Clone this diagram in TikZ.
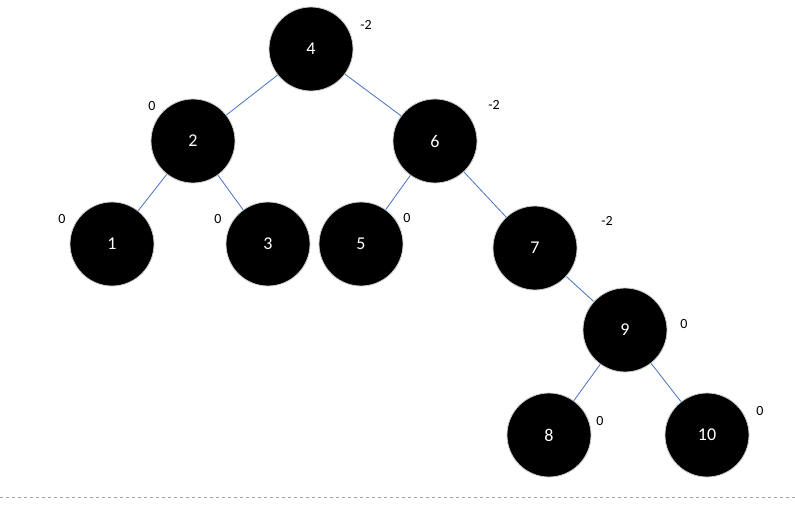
\documentclass[tikz,border=0pt]{standalone}
\usepackage{fontspec}
\setmainfont{Carlito}
\begin{document}
\begin{tikzpicture}[x=1pt,y=-1pt,
  nd/.style={circle,fill=black,draw=gray!40,line width=0.8pt,minimum size=84pt,inner sep=0pt,text=white,font=\fontsize{18}{18}\selectfont},
  lab/.style={font=\fontsize{14}{14}\selectfont,text=black},
  ed/.style={draw={rgb,255:red,68;green,114;blue,196},line width=0.8pt}]
\useasboundingbox (0,0) rectangle (795,504);
\node[nd] (n4) at (311,49) {4};
\node[nd] (n2) at (193,141) {2};
\node[nd] (n6) at (435,141) {6};
\node[nd] (n1) at (112,244) {1};
\node[nd] (n3) at (268,244) {3};
\node[nd] (n5) at (361,244) {5};
\node[nd] (n7) at (535,248) {7};
\node[nd] (n9) at (625,330) {9};
\node[nd] (n8) at (549,435) {8};
\node[nd] (n10) at (707,435) {10};
\draw[ed] (n4)--(n2); \draw[ed] (n4)--(n6);
\draw[ed] (n2)--(n1); \draw[ed] (n2)--(n3);
\draw[ed] (n6)--(n5); \draw[ed] (n6)--(n7);
\draw[ed] (n7)--(n9); \draw[ed] (n9)--(n8); \draw[ed] (n9)--(n10);
\node[lab] (l4) at (366,25) {-2};
\node[lab] (l2) at (152,106) {0};
\node[lab] (l6) at (494,105) {-2};
\node[lab] (l1) at (62,219) {0};
\node[lab] (l3) at (218,219) {0};
\node[lab] (l5) at (407,218) {0};
\node[lab] (l7) at (607,221) {-2};
\node[lab] (l9) at (684,324) {0};
\node[lab] (l8) at (600,421) {0};
\node[lab] (l10) at (760,411) {0};
\coordinate (da) at (0,497); \coordinate (db) at (795,497);
\draw[gray!70,dashed,line width=0.8pt] (da)--(db);
\end{tikzpicture}
\end{document}
